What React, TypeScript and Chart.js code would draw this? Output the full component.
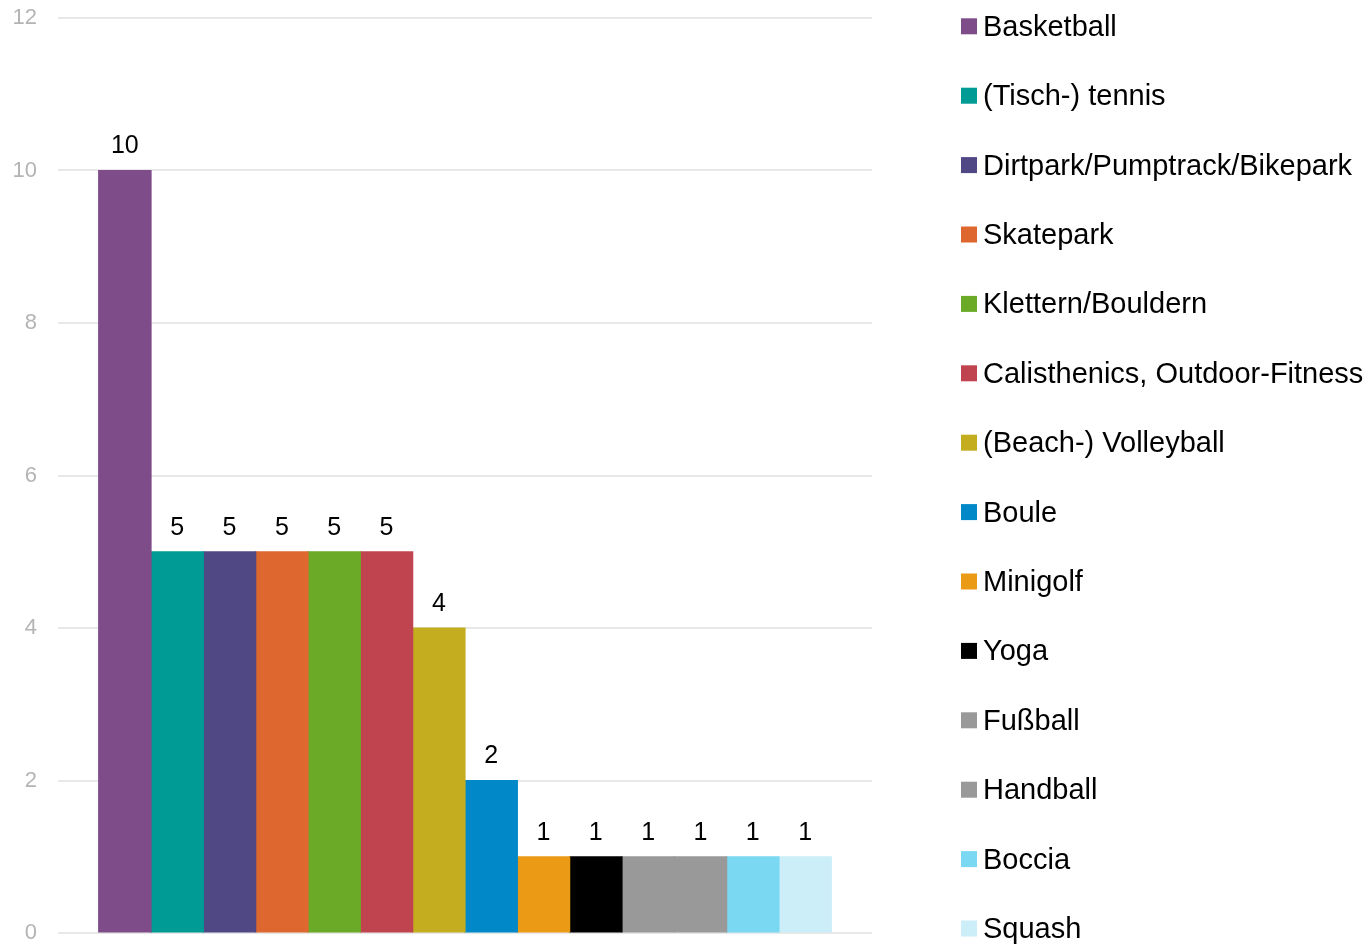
import React, { useEffect, useRef } from "react";
import { Chart, registerables } from "chart.js";

Chart.register(...registerables);

const categories: string[] = [""];
const seriesNames: string[] = [
  "Basketball",
  "(Tisch-) tennis",
  "Dirtpark/Pumptrack/Bikepark",
  "Skatepark",
  "Klettern/Bouldern",
  "Calisthenics, Outdoor-Fitness",
  "(Beach-) Volleyball",
  "Boule",
  "Minigolf",
  "Yoga",
  "Fußball",
  "Handball",
  "Boccia",
  "Squash",
];
const seriesValues: number[] = [10, 5, 5, 5, 5, 5, 4, 2, 1, 1, 1, 1, 1, 1];
const seriesColors: string[] = [
  "#7f4c8a",
  "#009b94",
  "#4f4885",
  "#dd672e",
  "#6aaa26",
  "#c0444f",
  "#c4ae20",
  "#0088c8",
  "#eb9a16",
  "#000000",
  "#999999",
  "#999999",
  "#7ad8f2",
  "#cbeef8",
];
const yTicks: number[] = [0, 2, 4, 6, 8, 10, 12];

const FONT = "'Liberation Sans', Arial, Helvetica, sans-serif";

const valueLabelPlugin = {
  id: "valueLabels",
  afterDatasetsDraw(chart: any) {
    const ctx = chart.ctx;
    ctx.save();
    ctx.font = `25px ${FONT}`;
    ctx.fillStyle = "#000";
    ctx.textAlign = "center";
    ctx.textBaseline = "middle";
    chart.data.datasets.forEach((ds: any, i: number) => {
      const meta = chart.getDatasetMeta(i);
      meta.data.forEach((bar: any, j: number) => {
        ctx.fillText(String(ds.data[j]), bar.x, bar.y - 24);
      });
    });
    ctx.restore();
  },
};

const sideLegendPlugin = {
  id: "sideLegend",
  afterDraw(chart: any) {
    const ctx = chart.ctx;
    ctx.save();
    ctx.font = `29px ${FONT}`;
    ctx.textAlign = "left";
    ctx.textBaseline = "middle";
    const x0 = 961;
    const y0 = 26.3;
    const step = 69.4;
    chart.data.datasets.forEach((ds: any, i: number) => {
      const y = y0 + i * step;
      ctx.fillStyle = ds.backgroundColor;
      ctx.fillRect(x0, y - 8, 16, 16);
      ctx.fillStyle = "#000";
      ctx.fillText(ds.label, x0 + 22, y + 1.5);
    });
    ctx.restore();
  },
};

export default function App() {
  const canvasRef = useRef<HTMLCanvasElement | null>(null);

  useEffect(() => {
    document.body.style.margin = "0";
    const canvas = canvasRef.current;
    if (!canvas) return;
    const chart = new Chart(canvas, {
      type: "bar",
      data: {
        labels: categories,
        datasets: seriesNames.map((name, i) => ({
          label: name,
          data: [seriesValues[i]],
          backgroundColor: seriesColors[i],
          borderWidth: 0,
          inflateAmount: 0.6,
          barPercentage: 1,
          categoryPercentage: 0.9,
        })),
      },
      options: {
        animation: false,
        responsive: true,
        maintainAspectRatio: false,
        layout: { padding: { top: 18, bottom: 12, right: 499, left: 0 } },
        plugins: {
          legend: { display: false },
          tooltip: { enabled: false },
        },
        scales: {
          x: { display: false },
          y: {
            min: 0,
            max: 12,
            afterBuildTicks(scale: any) {
              scale.ticks = yTicks.map((v) => ({ value: v }));
            },
            afterFit(scale: any) {
              scale.width = 58;
              scale.paddingTop = 0;
              scale.paddingBottom = 0;
            },
            border: { display: false },
            grid: { color: "#e8e8e8", lineWidth: 2, drawTicks: false },
            ticks: {
              padding: 21,
              color: "#b4b4b4",
              font: { family: FONT, size: 22 },
            },
          },
        },
      },
      plugins: [valueLabelPlugin, sideLegendPlugin],
    });
    return () => chart.destroy();
  }, []);

  return (
    <div style={{ width: 1371, height: 945, position: "relative" }}>
      <canvas ref={canvasRef} />
    </div>
  );
}
